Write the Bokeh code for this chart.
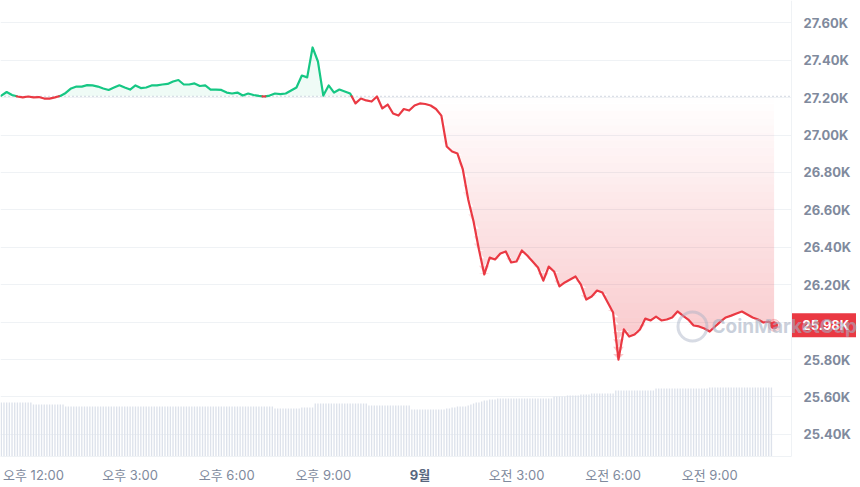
import numpy as np
from bokeh.plotting import figure
from bokeh.models import (Range1d, FixedTicker, CustomJSTickFormatter, LinearAxis)
from bokeh.core.properties import value
from bokeh.embed import file_html
from bokeh.resources import INLINE

# ---------------- data ----------------
price_start_hour = 11.0          # hours since 8 Sep 00:00
price_step_hours = 1 / 6         # 10 minutes
open_price = 27207

price = [
    27211, 27230, 27214, 27206, 27201, 27206, 27201, 27203, 27195, 27195, 27201, 27209,
    27225, 27249, 27259, 27259, 27267, 27265, 27259, 27249, 27241, 27254, 27266, 27254,
    27243, 27265, 27251, 27254, 27265, 27265, 27270, 27273, 27286, 27294, 27270, 27270,
    27276, 27262, 27265, 27243, 27243, 27241, 27227, 27222, 27227, 27211, 27222, 27214,
    27209, 27206, 27211, 27222, 27219, 27222, 27238, 27254, 27318, 27308, 27468, 27393,
    27211, 27265, 27227, 27243, 27233, 27222, 27169, 27195, 27185, 27179, 27206, 27142,
    27163, 27115, 27104, 27139, 27131, 27158, 27169, 27166, 27158, 27139, 27104, 26939,
    26912, 26901, 26816, 26656, 26538, 26388, 26255, 26345, 26335, 26367, 26378, 26319,
    26324, 26383, 26356, 26324, 26292, 26222, 26297, 26271, 26191, 26212, 26228, 26244,
    26201, 26121, 26137, 26169, 26158, 26105, 26051, 25800, 25961, 25923, 25934, 25961,
    26019, 26009, 26030, 26009, 26014, 26025, 26057, 26035, 26014, 25982, 25977, 25966,
    25950, 25977, 26003, 26025, 26035, 26046, 26057, 26041, 26025, 26014, 25998, 26003,
    25983,
]

vol_start_hour = 11.0
vol_step_hours = 1 / 12          # 5 minutes
volume_b = [
    10.8, 10.8, 10.8, 10.8, 10.8, 10.8, 10.8, 10.8, 10.8, 10.8, 10.8, 10.8,
    10.4, 10.4, 10.4, 10.4, 10.4, 10.4, 10.4, 10.4, 10.4, 10.4, 10.4, 10.4,
    10.0, 10.0, 10.0, 10.0, 10.0, 10.0, 10.0, 10.0, 10.0, 10.0, 10.0, 10.0,
    10.0, 10.0, 10.0, 10.0, 10.0, 10.0, 10.0, 10.0, 10.0, 10.0, 10.0, 10.0,
    10.0, 10.0, 10.0, 10.0, 10.0, 10.0, 10.0, 10.0, 10.0, 10.0, 10.0, 10.0,
    10.0, 10.0, 10.0, 10.0, 10.0, 10.0, 10.0, 10.0, 10.0, 10.0, 10.0, 10.0,
    10.0, 10.0, 10.0, 10.0, 10.0, 10.0, 10.0, 10.0, 10.0, 10.0, 10.0, 10.0,
    10.0, 10.0, 10.0, 10.0, 10.0, 10.0, 10.0, 10.0, 10.0, 10.0, 10.0, 10.0,
    10.0, 10.0, 10.0, 10.0, 10.0, 10.0, 9.6, 9.6, 9.6, 9.6, 9.6, 9.6,
    9.6, 9.6, 9.6, 9.6, 9.8, 9.8, 9.8, 9.8, 9.8, 10.6, 10.6, 10.6,
    10.6, 10.6, 10.6, 10.6, 10.6, 10.6, 10.6, 10.6, 10.6, 10.6, 10.6, 10.6,
    10.6, 10.6, 10.6, 10.6, 10.6, 10.2, 10.2, 10.2, 10.2, 10.2, 10.2, 10.2,
    10.2, 10.2, 10.2, 10.2, 10.2, 10.2, 10.2, 10.2, 10.2, 9.4, 9.4, 9.4,
    9.4, 9.4, 9.4, 9.4, 9.4, 9.4, 9.4, 9.4, 9.4, 9.4, 9.6, 9.6,
    9.8, 9.8, 10.0, 10.0, 10.0, 10.0, 10.2, 10.4, 10.6, 10.8, 10.8, 11.0,
    11.2, 11.2, 11.4, 11.4, 11.4, 11.6, 11.6, 11.6, 11.6, 11.6, 11.6, 11.6,
    11.6, 11.6, 11.6, 11.6, 11.6, 11.6, 11.6, 11.6, 11.6, 11.6, 11.6, 11.6,
    11.6, 11.6, 12.0, 12.0, 12.0, 12.0, 12.0, 12.2, 12.2, 12.2, 12.2, 12.2,
    12.4, 12.4, 12.4, 12.4, 12.6, 12.6, 12.6, 12.6, 12.6, 12.6, 12.6, 12.6,
    12.6, 13.2, 13.2, 13.2, 13.2, 13.2, 13.2, 13.2, 13.2, 13.2, 13.2, 13.2,
    13.2, 13.2, 13.2, 13.2, 13.6, 13.6, 13.6, 13.6, 13.6, 13.6, 13.6, 13.6,
    13.6, 13.6, 13.6, 13.6, 13.6, 13.6, 13.6, 13.6, 13.6, 13.6, 13.6, 13.6,
    13.8, 13.8, 13.8, 13.8, 13.8, 13.8, 13.8, 13.8, 13.8, 13.8, 13.8, 13.8,
    13.8, 13.8, 13.8, 13.8, 13.8, 13.8, 13.8, 13.8, 13.8, 13.8, 13.8, 13.8,
]

y_ticks = [25400, 25600, 25800, 26000, 26200, 26400, 26600, 26800, 27000, 27200, 27400, 27600]
hidden_y_tick = 26000            # covered by the last-price tag
x_ticks = [12, 15, 18, 21, 24, 27, 30, 33]
x_tick_labels = ["오후 12:00", "오후 3:00", "오후 6:00", "오후 9:00", "", "오전 3:00", "오전 6:00", "오전 9:00"]
day_tick = 24
day_label = "9월"
watermark_text = "CoinMarketCap"

# ---------------- style / layout ----------------
GREEN = "#16c784"
RED = "#ea3943"
GRID = "#eff2f5"
LABEL = "#808a9d"
FONT = "Inter, Noto Sans CJK KR"

PXH = 32.2                       # pixels per hour
FRAME_W, FRAME_H = 858, 456
X0 = 10.975
X_AX = X0 + 791 / PXH            # where the price axis line sits
X1 = X0 + FRAME_W / PXH
Y0, Y1 = 25282, 27719

p = figure(frame_width=FRAME_W, frame_height=FRAME_H, output_backend="svg", toolbar_location=None,
           x_range=Range1d(X0, X1), y_range=Range1d(Y0, Y1), y_axis_location=None,
           min_border_left=0, min_border_top=0, min_border_right=0, min_border_bottom=22)
p.outline_line_color = None
p.background_fill_color = "white"
p.border_fill_color = "white"

# price axis pinned inside the (wide) frame
ya = LinearAxis(ticker=FixedTicker(ticks=y_ticks), fixed_location=X_AX,
                formatter=CustomJSTickFormatter(code="return (tick/1000).toFixed(2) + 'K';"),
                major_label_overrides={hidden_y_tick: ""})
ya.axis_line_color = GRID
ya.major_tick_line_color = None
ya.minor_tick_line_color = None
ya.major_label_text_color = LABEL
ya.major_label_text_font = FONT
ya.major_label_text_font_size = "13px"
ya.major_label_text_font_style = "bold"
ya.major_label_standoff = 6
p.add_layout(ya, "right")

p.xgrid.grid_line_color = None
p.ygrid.grid_line_color = GRID
p.ygrid.ticker = FixedTicker(ticks=y_ticks)

# blank the axis-label strip so grid lines stop at the axis
p.quad(left=[X_AX], right=[X1], bottom=[Y0], top=[Y1], fill_color="white", line_color=None)

# volume bars on their own range
vol_x = vol_start_hour + np.arange(len(volume_b)) * vol_step_hours
p.extra_y_ranges = {"vol": Range1d(0, 91.2)}
p.vbar(x=vol_x, top=volume_b, bottom=0, width=0.042, y_range_name="vol",
       fill_color="#dde2eb", line_color=None)

# price series with baseline crossings
xs = price_start_hour + np.arange(len(price)) * price_step_hours
ps = np.array(price, dtype=float)
ax, ay = [xs[0]], [ps[0]]
for i in range(len(ps) - 1):
    d0, d1 = ps[i] - open_price, ps[i + 1] - open_price
    if d0 * d1 < 0:
        t = d0 / (d0 - d1)
        ax.append(xs[i] + t * (xs[i + 1] - xs[i]))
        ay.append(open_price)
    ax.append(xs[i + 1])
    ay.append(ps[i + 1])
ax = np.array(ax)
ay = np.array(ay)

# fills: green above open, red gradient (non-overlapping bands) below open
p.varea(x=ax, y1=np.full_like(ay, open_price), y2=np.maximum(ay, open_price),
        fill_color=GREEN, fill_alpha=0.07)
lo = float(min(price)) - 10
n_bands = 36
band_h = (open_price - lo) / n_bands
for j in range(n_bands):
    top = open_price - j * band_h
    bot = top - band_h
    depth = open_price - (top + bot) / 2
    a = min(0.3, 0.25 * depth / 1230.0)
    p.varea(x=ax, y1=np.clip(ay, bot, top), y2=np.full_like(ay, top),
            fill_color=RED, fill_alpha=a)

# dotted open-price line up to the axis
p.segment(x0=[X0], x1=[X_AX], y0=[open_price], y1=[open_price], line_color="#a6b0c3",
          line_dash="1 3", line_width=1)

# coloured line runs
g_xs, g_ys, r_xs, r_ys = [], [], [], []
cur_x, cur_y, cur_sign = [ax[0]], [ay[0]], None
for i in range(len(ax) - 1):
    sign = (ay[i] + ay[i + 1]) / 2 >= open_price
    if cur_sign is None:
        cur_sign = sign
    if sign != cur_sign:
        (g_xs if cur_sign else r_xs).append(cur_x)
        (g_ys if cur_sign else r_ys).append(cur_y)
        cur_x, cur_y, cur_sign = [ax[i]], [ay[i]], sign
    cur_x.append(ax[i + 1])
    cur_y.append(ay[i + 1])
(g_xs if cur_sign else r_xs).append(cur_x)
(g_ys if cur_sign else r_ys).append(cur_y)
p.multi_line(xs=g_xs, ys=g_ys, line_color=GREEN, line_width=2.2, line_join="round", line_cap="round")
p.multi_line(xs=r_xs, ys=r_ys, line_color=RED, line_width=2.2, line_join="round", line_cap="round")

# end marker
p.scatter(x=[xs[-1]], y=[ps[-1]], size=12, color=RED, alpha=0.2)
p.scatter(x=[xs[-1]], y=[ps[-1]], size=7, color=RED)

# last-price tag on the axis strip
p.rect(x=[X_AX + 32.5 / PXH], y=[ps[-1]], width=64, height=24, width_units="screen",
       height_units="screen", fill_color=RED, line_color=None)
p.text(x=[X_AX + 11 / PXH], y=[ps[-1]], text=["%.2fK" % (ps[-1] / 1000)], text_align="left",
       text_baseline="middle", text_color="white", text_font=value(FONT),
       text_font_size="13px", text_font_style="bold")

# watermark
wm_y = 25977
p.scatter(x=[X0 + 692 / PXH], y=[wm_y], marker="circle", size=29, fill_color=None,
          line_color="#a6b0c3", line_width=3, line_alpha=0.45)
p.text(x=[X0 + 711 / PXH], y=[wm_y], text=[watermark_text], text_align="left",
       text_baseline="middle", text_color="#a6b0c3", text_alpha=0.6, text_font=value(FONT),
       text_font_size="19px", text_font_style="bold")

# time axis
xa = p.xaxis[0]
xa.ticker = FixedTicker(ticks=x_ticks)
xa.bounds = (X0, X_AX)
xa.major_label_overrides = {t: s for t, s in zip(x_ticks, x_tick_labels)}
xa.axis_line_color = GRID
xa.major_tick_line_color = None
xa.minor_tick_line_color = None
xa.major_label_text_color = LABEL
xa.major_label_text_font = FONT
xa.major_label_text_font_size = "13px"
xa.major_label_standoff = 4

# day label in bold on a second time axis, pulled up onto the same row
day = LinearAxis(ticker=FixedTicker(ticks=[day_tick]), major_label_overrides={day_tick: day_label})
day.axis_line_color = None
day.minor_tick_line_color = None
day.major_tick_line_color = None
day.major_tick_in = 0
day.major_tick_out = 0
day.major_label_standoff = -19
day.major_label_text_color = "#58667e"
day.major_label_text_font = FONT
day.major_label_text_font_size = "13px"
day.major_label_text_font_style = "bold"
p.add_layout(day, "below")

open("out.html", "w").write(file_html(p, INLINE))
